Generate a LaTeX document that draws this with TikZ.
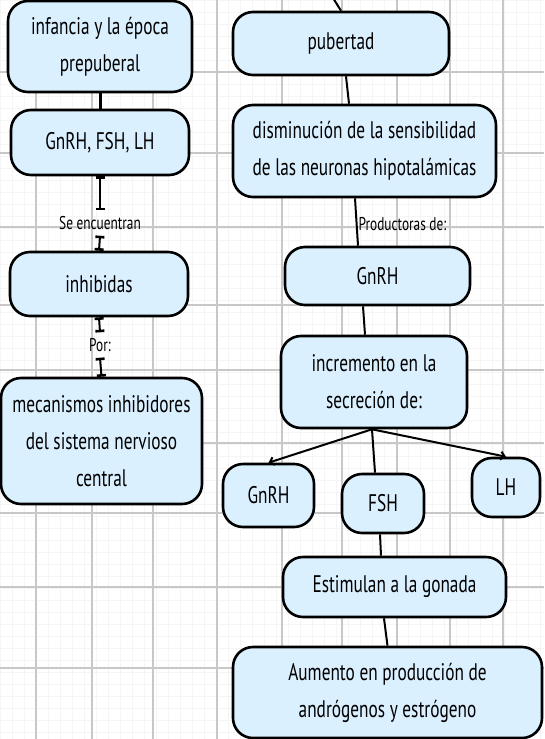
\documentclass[tikz,border=0pt]{standalone}
\usepackage{fontspec}
\setmainfont{PT Sans}[FakeStretch=0.72]
\usepackage{xcolor}
\usetikzlibrary{arrows.meta}

\definecolor{celeste}{RGB}{219,240,255}
\definecolor{rejilla}{RGB}{200,200,200}

\begin{document}
\begin{tikzpicture}[x=1pt,y=-1pt,
    caja/.style={draw=black, line width=2.6pt, fill=celeste, rounded corners=20pt, align=center, inner sep=0pt, font=\fontsize{24}{37}\selectfont},
    etiqueta/.style={inner sep=1pt, minimum height=25pt, font=\fontsize{18.5}{20}\selectfont},
    linea/.style={line width=2pt},
    tope/.style={linea, {Bar[width=9pt,line width=2.6pt]}-{Bar[width=9pt,line width=2.6pt]}},
    flecha/.style={linea, -{Straight Barb[length=4pt,width=8pt]}}]
    \pgfmathsetmacro{\ancho}{544}
    \pgfmathsetmacro{\alto}{739}

    % Hoja
    \clip (0,0) rectangle (\ancho,\alto);
    \fill[white] (0,0) rectangle (\ancho,\alto);
    \foreach \x in {0,12,...,540} \draw[black!4] (\x,0) -- (\x,\alto);
    \foreach \y in {0,12,...,732} \draw[black!4] (0,\y) -- (\ancho,\y);
    \foreach \x in {36,92,153,217,282,342,397,450,503} \draw[rejilla,line width=1.2pt] (\x,0) -- (\x,\alto);
    \foreach \y in {72,153,227,305,370,443,513,587,668} \draw[rejilla,line width=1.2pt] (0,\y) -- (\ancho,\y);

    % Columna izquierda
    \node[caja, minimum width=184, minimum height=91] (infancia) at (100,46.5) {infancia y la época\\prepuberal};
    \node[caja, minimum width=178, minimum height=65] (hormonas) at (100,142.5) {GnRH, FSH, LH};
    \node[caja, minimum width=178, minimum height=64] (inhibidas) at (99,284) {inhibidas};
    \node[caja, minimum width=201, minimum height=126] (mecanismos) at (101.5,441) {mecanismos inhibidores\\del sistema nervioso\\central};

    \node[etiqueta] (encuentran) at (100,223) {Se encuentran};
    \node[etiqueta] (por) at (100,345) {Por:};

    \draw[linea, line width=3pt] (infancia) -- (hormonas);
    \draw[tope] (hormonas.south) -- (encuentran.north);
    \draw[tope] (encuentran.south) -- (inhibidas.north);
    \draw[tope] (inhibidas.south) -- (por.north);
    \draw[tope] (por.south) -- (mecanismos.north);

    % Columna derecha
    \node[caja, minimum width=216, minimum height=63] (pubertad) at (341,43.5) {pubertad};
    \node[caja, minimum width=263, minimum height=92] (disminucion) at (364.5,151) {disminución de la sensibilidad\\de las neuronas hipotalámicas};
    \node[caja, minimum width=185, minimum height=58] (gnrh) at (377.5,276) {GnRH};
    \node[caja, minimum width=186, minimum height=92] (incremento) at (374,382) {incremento en la\\secreción de:};
    \node[caja, minimum width=91, minimum height=63] (gnrhdos) at (268.5,495.5) {GnRH};
    \node[caja, minimum width=82, minimum height=59] (fsh) at (383,503.5) {FSH};
    \node[caja, minimum width=68, minimum height=59] (lh) at (506,487.5) {LH};
    \node[caja, minimum width=223, minimum height=60] (gonada) at (394.5,587) {Estimulan a la gonada};
    \node[caja, minimum width=309, minimum height=91] (aumento) at (387.5,692.5) {Aumento en producción de\\andrógenos y estrógeno};

    \coordinate (arriba) at (328,-10);
    \coordinate (salida) at ([xshift=-2]incremento.south);

    \draw[linea] (arriba) -- (pubertad.north);
    \draw[linea] ([xshift=5]pubertad.south) -- ([xshift=-15.5]disminucion.north);
    \draw[linea] ([xshift=-9.5]disminucion.south) -- node[etiqueta, right, pos=0.55] {Productoras de:} ([xshift=-19.5]gnrh.north);
    \draw[linea] ([xshift=-14.5]gnrh.south) -- ([xshift=-9]incremento.north);
    \draw[flecha] (salida) -- (gnrhdos.north);
    \draw[flecha] (salida) -- (lh.north);
    \draw[linea] (salida) -- ([xshift=-8]fsh.north);
    \draw[linea] ([xshift=-3]fsh.south) -- ([xshift=-13.5]gonada.north);
    \draw[linea] ([xshift=-10.5]gonada.south) -- (aumento.north);
\end{tikzpicture}
\end{document}
